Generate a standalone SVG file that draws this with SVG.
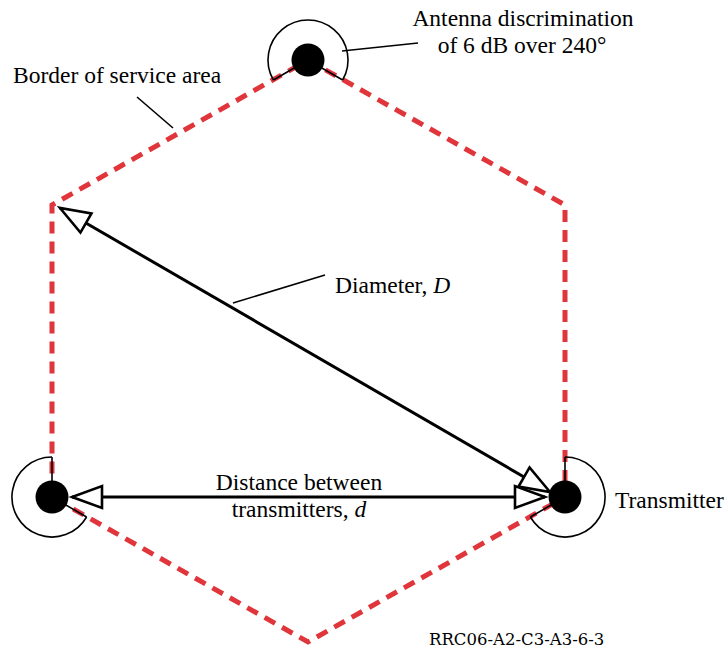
<svg xmlns="http://www.w3.org/2000/svg" width="728" height="659" viewBox="0 0 728 659">
<style>
.border{fill:none;stroke:#e0353b;stroke-width:5;stroke-dasharray:12 8}
.arc{fill:none;stroke:#000;stroke-width:1.6}
.dot{fill:#000}
.shaft{stroke:#000;stroke-width:3;fill:none}
.leader{stroke:#000;stroke-width:1.6}
.t{font-family:"Liberation Serif","Times New Roman",serif;font-size:23.5px;fill:#000}
.code{font-family:"DejaVu Serif","Liberation Serif",serif;font-size:16.5px;fill:#000}
</style>
<defs>
<marker id="head" markerUnits="userSpaceOnUse" viewBox="-33 -14 36 28" refX="0" refY="0" markerWidth="36" markerHeight="28" orient="auto-start-reverse">
<path d="M0,0 L-30,-11 L-30,11 Z" fill="#fff" stroke="#000" stroke-width="2.6" stroke-linejoin="miter"/>
</marker>
</defs>
<rect width="728" height="659" fill="#fff"/>
<g id="border">
<polygon class="border" points="308,60 565,205 565,497 308,642 52,497 52,205"/>
</g>
<g id="tx-top">
<path class="arc" d="M273.4,80 A40,40 0 1 1 342.6,80"/>
<path class="arc" d="M308,60 L273.4,80 M308,60 L342.6,80"/>
<circle class="dot" cx="308" cy="60" r="16.5"/>
</g>
<g id="tx-left">
<path class="arc" d="M52,457 A40,40 0 1 0 86.6,517"/>
<path class="arc" d="M52,497 L52,457 M52,497 L86.6,517"/>
<circle class="dot" cx="52" cy="497" r="16.5"/>
</g>
<g id="tx-right">
<path class="arc" d="M565,457 A40,40 0 1 1 530.4,517"/>
<path class="arc" d="M565,497 L565,457 M565,497 L530.4,517"/>
<circle class="dot" cx="565" cy="497" r="16.5"/>
</g>
<g id="connectors">
<line class="shaft" x1="60" y1="208" x2="550" y2="492" marker-start="url(#head)" marker-end="url(#head)"/>
<line class="shaft" x1="72" y1="497" x2="545" y2="497" marker-start="url(#head)" marker-end="url(#head)"/>
<line class="leader" x1="342" y1="51" x2="418" y2="43"/>
<line class="leader" x1="137" y1="97" x2="173" y2="128"/>
<line class="leader" x1="233" y1="303" x2="325" y2="275"/>
</g>
<g id="labels">
<text class="t" x="523" y="26" text-anchor="middle">Antenna discrimination</text>
<text class="t" x="522" y="53" text-anchor="middle">of 6 dB over 240°</text>
<text class="t" x="13" y="83">Border of service area</text>
<text class="t" x="335" y="293">Diameter, <tspan font-style="italic">D</tspan></text>
<text class="t" x="299" y="490" text-anchor="middle">Distance between</text>
<text class="t" x="299" y="517" text-anchor="middle">transmitters, <tspan font-style="italic">d</tspan></text>
<text class="t" x="615" y="508">Transmitter</text>
<text class="code" x="429" y="645">RRC06-A2-C3-A3-6-3</text>
</g>
</svg>
